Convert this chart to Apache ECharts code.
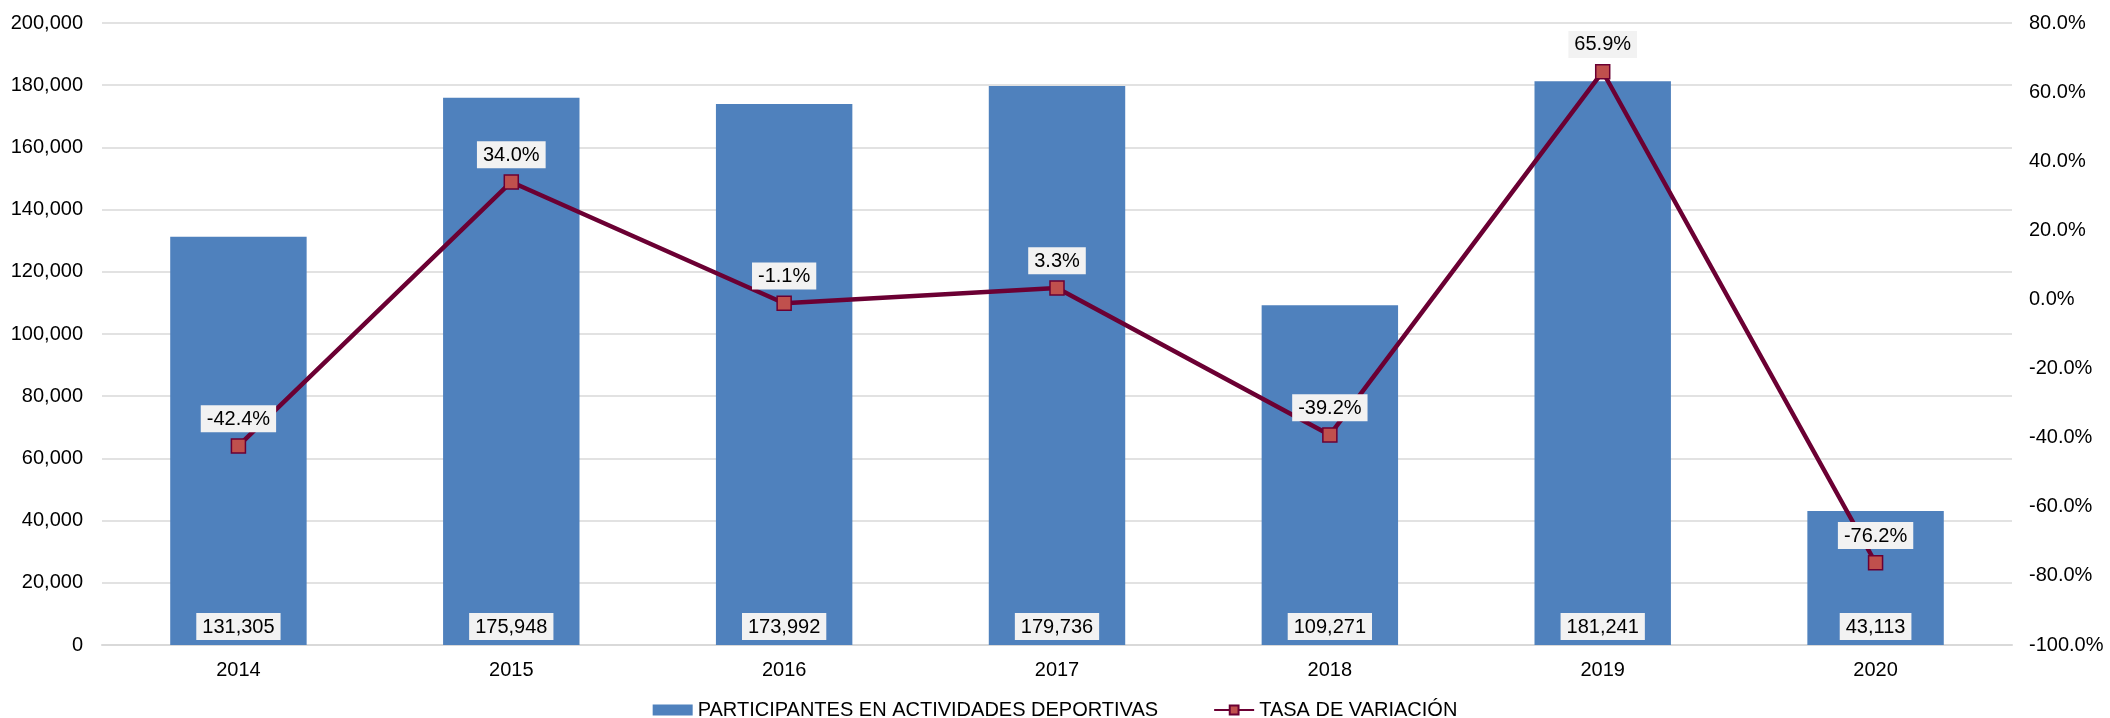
<!DOCTYPE html>
<html>
<head>
<meta charset="utf-8">
<script src="https://cdn.jsdelivr.net/npm/echarts@6/dist/echarts.min.js"></script>
<style>
  html, body { margin: 0; padding: 0; background: #ffffff; }
  #chart { width: 2110px; height: 718px; }
</style>
</head>
<body>
<div id="chart"></div>
<script>
// Años
const years = ['2014', '2015', '2016', '2017', '2018', '2019', '2020'];
// Participantes en actividades deportivas
const participantes = [131305, 175948, 173992, 179736, 109271, 181241, 43113];
// Tasa de variación anual (%)
const tasaVariacion = [-42.4, 34.0, -1.1, 3.3, -39.2, 65.9, -76.2];

const barName = 'PARTICIPANTES EN ACTIVIDADES DEPORTIVAS';
const lineName = 'TASA DE VARIACIÓN';

const font = 'Liberation Sans, Arial, sans-serif';
const fmtInt = v => v.toLocaleString('en-US');

const chart = echarts.init(document.getElementById('chart'), null, { renderer: 'canvas' });

chart.setOption({
  animation: false,
  backgroundColor: '#ffffff',
  textStyle: { fontFamily: font },
  grid: { left: 102, right: 98, top: 23, bottom: 73, containLabel: false },
  legend: {
    bottom: -2,
    left: 'center',
    padding: 0,
    itemGap: 55,
    itemWidth: 40,
    itemHeight: 11,
    textStyle: { fontFamily: font, fontSize: 20, color: '#000', lineHeight: 20 },
    data: [
      { name: barName, icon: 'rect' },
      { name: lineName }
    ]
  },
  xAxis: {
    type: 'category',
    data: years,
    axisLine: { lineStyle: { color: '#d9d9d9', width: 2 } },
    axisTick: { show: false },
    axisLabel: { color: '#000', fontSize: 20, margin: 15, fontFamily: font }
  },
  yAxis: [
    {
      type: 'value',
      min: 0,
      max: 200000,
      interval: 20000,
      axisLine: { show: false },
      axisTick: { show: false },
      splitLine: { lineStyle: { color: '#d9d9d9', width: 1.5 } },
      axisLabel: { color: '#000', fontSize: 20, margin: 19, fontFamily: font, formatter: v => fmtInt(v) }
    },
    {
      type: 'value',
      min: -100,
      max: 80,
      interval: 20,
      axisLine: { show: false },
      axisTick: { show: false },
      splitLine: { show: false },
      axisLabel: { color: '#000', fontSize: 20, margin: 17, fontFamily: font, formatter: v => v.toFixed(1) + '%' }
    }
  ],
  series: [
    {
      name: barName,
      type: 'bar',
      yAxisIndex: 0,
      data: participantes,
      barWidth: '50%',
      itemStyle: { color: '#4f81bd' },
      label: {
        show: true,
        position: 'insideBottom',
        distance: 5,
        color: '#000',
        fontSize: 20,
        fontFamily: font,
        backgroundColor: '#f2f2f2',
        padding: [4, 6, 3, 6],
        formatter: p => fmtInt(p.value)
      },
      z: 1
    },
    {
      name: lineName,
      type: 'line',
      yAxisIndex: 1,
      data: tasaVariacion,
      symbol: 'rect',
      symbolSize: 14,
      lineStyle: { color: '#6b0033', width: 4.5 },
      itemStyle: { color: '#c0504d', borderColor: '#6b0033', borderWidth: 1.5 },
      label: {
        show: true,
        position: 'top',
        distance: 6,
        color: '#000',
        fontSize: 20,
        fontFamily: font,
        backgroundColor: '#f2f2f2',
        padding: [4, 6, 3, 6],
        formatter: p => p.value.toFixed(1) + '%'
      },
      z: 3
    }
  ]
});
</script>
</body>
</html>
